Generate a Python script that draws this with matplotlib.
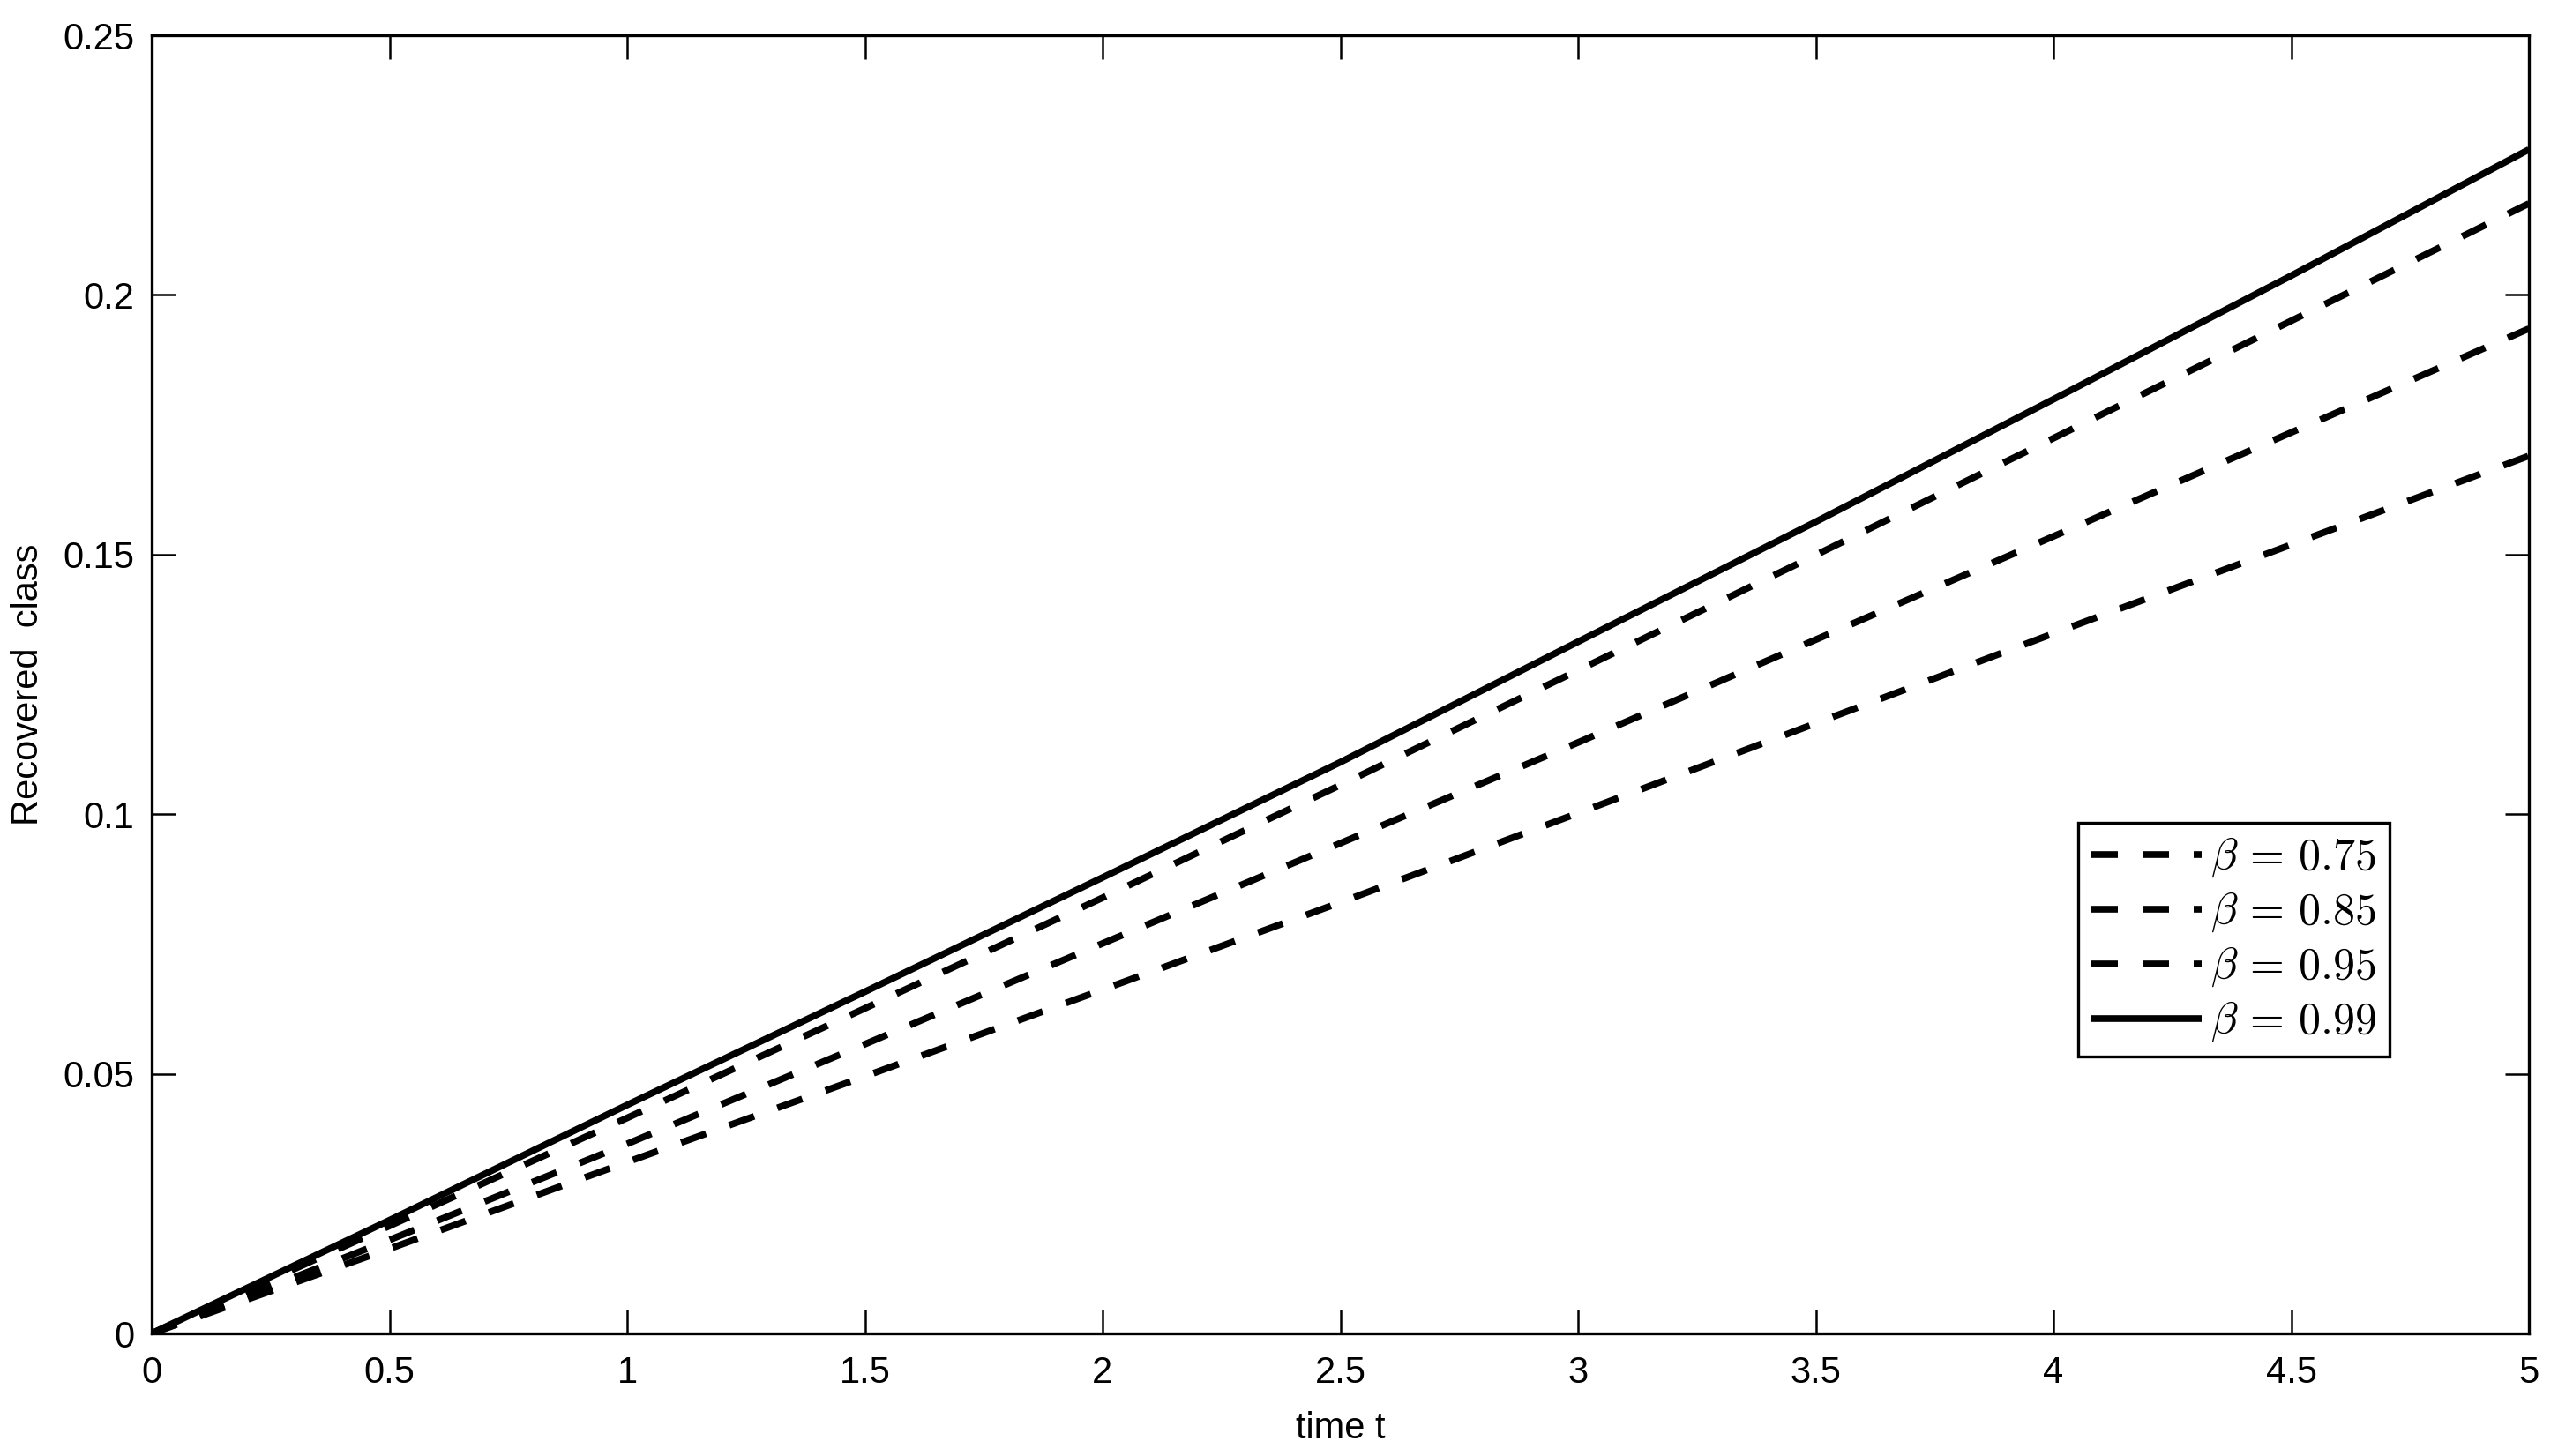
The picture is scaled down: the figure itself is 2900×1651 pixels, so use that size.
import numpy as np, matplotlib; matplotlib.use("Agg")
import matplotlib.pyplot as plt

plt.rcParams['font.family']=['Liberation Sans','DejaVu Sans']
plt.rcParams['mathtext.fontset']='cm'

# time points and recovered class for each beta
t=[0,0.5,1,1.5,2,2.5,3,3.5,4,4.5,5]
r075=[0,0.0163,0.0330,0.0495,0.0662,0.0830,0.1002,0.1175,0.1348,0.1519,0.1690]
r085=[0,0.0180,0.0365,0.0557,0.0751,0.0944,0.1138,0.1336,0.1535,0.1735,0.1935]
r095=[0,0.0207,0.0415,0.0626,0.0839,0.1056,0.1277,0.1499,0.1724,0.1950,0.2176]
r099=[0,0.0218,0.0440,0.0658,0.0878,0.1100,0.1332,0.1563,0.1799,0.2037,0.2280]
labels=[r'$\beta\,=\,0.75$',r'$\beta\,=\,0.85$',r'$\beta\,=\,0.95$',r'$\beta\,=\,0.99$']
xticks=[0,0.5,1,1.5,2,2.5,3,3.5,4,4.5,5]
xticklabels=['0','0.5','1','1.5','2','2.5','3','3.5','4','4.5','5']
yticks=[0,0.05,0.1,0.15,0.2,0.25]
yticklabels=['0','0.05','0.1','0.15','0.2','0.25']

W,H=2900,1651
fig=plt.figure(figsize=(W/100,H/100),dpi=100)
ax=fig.add_axes([172/W,1-1512/H,(2867-172)/W,(1512-40)/H])
lw=5.5;dash=(30*0.72/lw,28*0.72/lw)
for y,lab in zip([r075,r085,r095],labels[:3]):
    ax.plot(t,y,'k',lw=lw,dashes=dash,dash_capstyle='butt',label=lab)
ax.plot(t,r099,'k',lw=lw,solid_capstyle='butt',label=labels[3])
ax.set_xlim(0,5);ax.set_ylim(0,0.25)
ax.set_xticks(xticks);ax.set_xticklabels(xticklabels)
ax.set_yticks(yticks);ax.set_yticklabels(yticklabels)
ax.tick_params(direction='in',length=19.4,width=1.8,labelsize=30,top=True,right=True)
ax.tick_params(axis='x',pad=18);ax.tick_params(axis='y',pad=14)
for s in ax.spines.values():s.set_linewidth(2.4)
ax.set_xlabel('time t',fontsize=30);ax.set_ylabel('Recovered  class',fontsize=30)
ax.xaxis.set_label_coords(0.5,-0.06);ax.yaxis.set_label_coords(-0.0445,0.5)
leg=ax.legend(loc='upper left',bbox_to_anchor=(2356/W,1-933/H),bbox_transform=fig.transFigure,
    fontsize=36,handlelength=2.5,handletextpad=0.2,borderpad=0.3,labelspacing=0.25,borderaxespad=0,
    fancybox=False,framealpha=1,edgecolor='k')
leg.get_frame().set_linewidth(2.4)
fig.savefig("out.png",dpi=100)
